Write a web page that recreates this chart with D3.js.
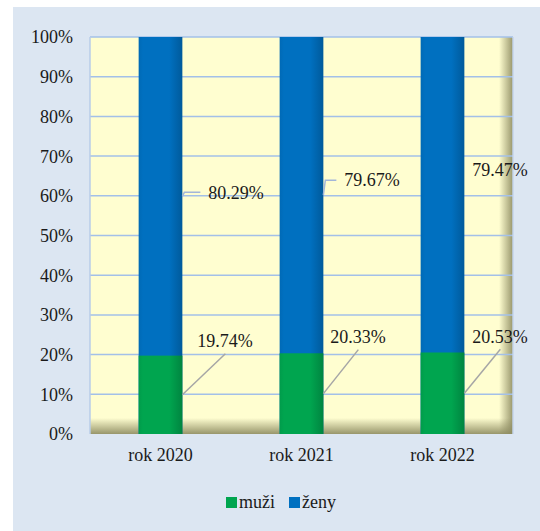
<!DOCTYPE html>
<html>
<head>
<meta charset="utf-8">
<script src="https://cdn.jsdelivr.net/npm/d3@7"></script>
<style>
  body { margin: 0; background: #fff; }
  svg text { font-family: "Liberation Serif", "Times New Roman", serif; fill: #1a1a1a; }
</style>
</head>
<body>
<svg id="chart" width="540" height="531"></svg>
<script>
// data
const years = ["rok 2020", "rok 2021", "rok 2022"]
const muzi = [19.74, 20.33, 20.53]
const zeny = [80.29, 79.67, 79.47]
const seriesNames = ["muži", "ženy"]
const seriesColors = ["#00a54f", "#0070c0"]
const yTicks = [0, 10, 20, 30, 40, 50, 60, 70, 80, 90, 100]

// label placement (offset of text start from bar right edge, text centre from segment middle)
const muziLabelOffset = [[15, -54], [7, -57], [8, -57]]
const zenyLabelOffset = [[26, -4], [21, -15], [8, -25]]

const svg = d3.select("#chart")
const width = +svg.attr("width"),
      height = +svg.attr("height")

const plot = { left: 90, right: 513, top: 37, bottom: 434 }

const defs = svg.append("defs")

function barGradient(id, base) {
  const c = d3.color(base)
  const g = defs.append("linearGradient").attr("id", id)
      .attr("x1", 0).attr("x2", 1).attr("y1", 0).attr("y2", 0)
  g.append("stop").attr("offset", 0).attr("stop-color", c.darker(0.15))
  g.append("stop").attr("offset", 0.1).attr("stop-color", c)
  g.append("stop").attr("offset", 0.7).attr("stop-color", c)
  g.append("stop").attr("offset", 1).attr("stop-color", c.darker(0.6))
}
barGradient("gMuzi", seriesColors[0])
barGradient("gZeny", seriesColors[1])

const shR = defs.append("linearGradient").attr("id", "shR")
    .attr("x1", 0).attr("x2", 1).attr("y1", 0).attr("y2", 0)
shR.append("stop").attr("offset", 0).attr("stop-color", "#8c8a60").attr("stop-opacity", 0)
shR.append("stop").attr("offset", 1).attr("stop-color", "#8c8a60").attr("stop-opacity", 0.9)
const shB = defs.append("linearGradient").attr("id", "shB")
    .attr("x1", 0).attr("x2", 0).attr("y1", 0).attr("y2", 1)
shB.append("stop").attr("offset", 0).attr("stop-color", "#8c8a60").attr("stop-opacity", 0)
shB.append("stop").attr("offset", 1).attr("stop-color", "#8c8a60").attr("stop-opacity", 0.9)

// backgrounds
svg.append("rect").attr("x", 13).attr("y", 7)
    .attr("width", width - 13).attr("height", height - 7)
    .attr("fill", "#dce6f2")

svg.append("rect").attr("x", plot.left).attr("y", plot.top)
    .attr("width", plot.right - plot.left).attr("height", plot.bottom - plot.top)
    .attr("fill", "#fffed0")
svg.append("rect").attr("x", plot.right - 14).attr("y", plot.top)
    .attr("width", 14).attr("height", plot.bottom - plot.top)
    .attr("fill", "url(#shR)")
svg.append("rect").attr("x", plot.left).attr("y", plot.bottom - 16)
    .attr("width", plot.right - plot.left).attr("height", 16)
    .attr("fill", "url(#shB)")

// scales
const x = d3.scaleBand().domain(years)
    .range([plot.left, plot.right]).paddingInner(0.69).paddingOuter(0.345)
const y = d3.scaleLinear().domain([0, 100]).range([plot.bottom, plot.top])

// grid
svg.append("g").selectAll("line").data(yTicks.filter(d => d > 0)).enter().append("line")
    .attr("x1", plot.left).attr("x2", plot.right)
    .attr("y1", d => y(d)).attr("y2", d => y(d))
    .attr("stroke", "#a3c0e8").attr("stroke-width", 1.5)
svg.append("line").attr("x1", plot.left).attr("x2", plot.left)
    .attr("y1", plot.top).attr("y2", plot.bottom)
    .attr("stroke", "#b8cde9").attr("stroke-width", 1.5)
svg.append("line").attr("x1", plot.right).attr("x2", plot.right)
    .attr("y1", plot.top).attr("y2", plot.bottom)
    .attr("stroke", "#c5d5ec").attr("stroke-width", 1.5)

// axes
const yAxis = svg.append("g")
    .attr("transform", "translate(" + (plot.left - 12) + ",0)")
    .call(d3.axisLeft(y).tickValues(yTicks).tickFormat(d => d + "%").tickSize(0).tickPadding(5))
yAxis.select(".domain").remove()
yAxis.selectAll("text").style("font-size", "18px").attr("dy", "0.33em")

const xAxis = svg.append("g")
    .attr("transform", "translate(0," + plot.bottom + ")")
    .call(d3.axisBottom(x).tickSize(0).tickPadding(14))
xAxis.select(".domain").remove()
xAxis.selectAll("text").style("font-size", "18px")

// bars
const rows = years.map((yr, i) => ({ year: yr, muzi: muzi[i], zeny: zeny[i], i: i }))

svg.append("g").selectAll("rect").data(rows).enter().append("rect")
    .attr("x", d => x(d.year)).attr("width", x.bandwidth())
    .attr("y", y(100)).attr("height", d => y(0) - y(100))
    .attr("fill", "url(#gZeny)")
svg.append("g").selectAll("rect").data(rows).enter().append("rect")
    .attr("x", d => x(d.year)).attr("width", x.bandwidth())
    .attr("y", d => y(d.muzi)).attr("height", d => y(0) - y(d.muzi))
    .attr("fill", "url(#gMuzi)")

// data labels with leader lines
const fmt = v => v.toFixed(2) + "%"

rows.forEach(d => {
  const bx = x(d.year) + x.bandwidth()

  // muzi
  const my = y(d.muzi / 2)
  const mo = muziLabelOffset[d.i]
  const mtx = bx + mo[0], mty = my + mo[1]
  svg.append("line")
      .attr("x1", bx).attr("y1", my).attr("x2", mtx + 28).attr("y2", mty + 13)
      .attr("stroke", "#a6a6a6").attr("stroke-width", 1.5)
  svg.append("text").attr("x", mtx).attr("y", mty).attr("dy", "0.35em")
      .style("font-size", "18px").text(fmt(d.muzi))

  // zeny
  const zy = y(100 - (100 - d.muzi) / 2)
  const zo = zenyLabelOffset[d.i]
  const ztx = bx + zo[0], zty = zy + zo[1]
  if (ztx - 8 > bx + 3)
    svg.append("path")
        .attr("d", d3.line()([[bx, zy], [bx + 2, zty], [ztx - 8, zty]]))
        .attr("fill", "none").attr("stroke", "#a3b6d9").attr("stroke-width", 1.5)
  svg.append("text").attr("x", ztx).attr("y", zty).attr("dy", "0.35em")
      .style("font-size", "18px").text(fmt(d.zeny))
})

// legend
const legend = svg.append("g").attr("transform", "translate(226,497)")
const items = legend.selectAll("g").data(seriesNames).enter().append("g")
    .attr("transform", (d, i) => "translate(" + (i * 63) + ",0)")
items.append("rect").attr("width", 11).attr("height", 11)
    .attr("fill", (d, i) => seriesColors[i])
items.append("text").attr("x", 13).attr("y", 11)
    .style("font-size", "18px").text(d => d)
</script>
</body>
</html>
